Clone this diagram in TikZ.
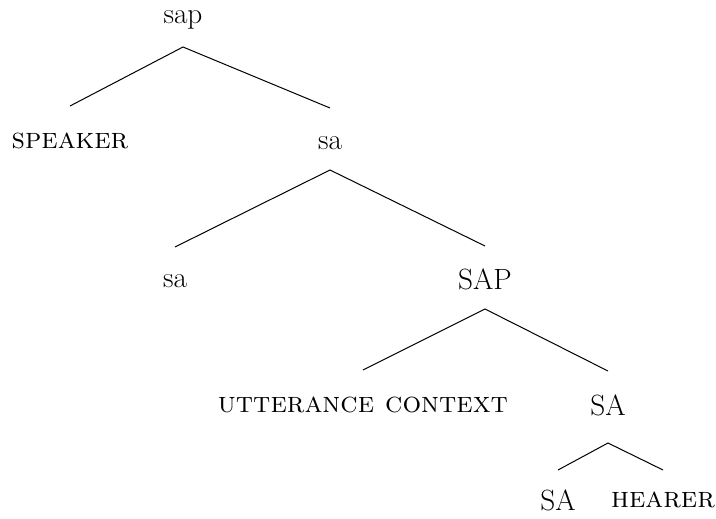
\documentclass[tikz,border=0pt]{standalone}
\usetikzlibrary{calc}
\begin{document}
\begin{tikzpicture}[x=1pt,y=-1pt,
  lbl/.style={inner sep=0pt,font=\fontsize{29.3}{35}\selectfont},
  edge/.style={line width=1pt}]
\useasboundingbox (0,0) rectangle (716,519);
% nodes of the tree
\node[lbl] (sap) at (183,20) {sap};
\node[lbl] (speaker) at (70,141) {\textsc{speaker}};
\node[lbl] (sa1) at (330,143) {sa};
\node[lbl] (sa2) at (175,281) {sa};
\node[lbl] (SAP) at (485,279) {SAP};
\node[lbl] (ctx) at (363,405) {\textsc{utterance context}};
\node[lbl] (SA1) at (608,405) {SA};
\node[lbl] (SA2) at (558,500) {SA};
\node[lbl] (hearer) at (663,500) {\textsc{hearer}};
% branches
\draw[edge] ($(speaker)+(0,-35)$) -- ($(sap)+(0,27)$) -- ($(sa1)+(0,-35)$);
\draw[edge] ($(sa2)+(0,-34)$) -- ($(sa1)+(0,27)$) -- ($(SAP)+(0,-33)$);
\draw[edge] ($(ctx)+(0,-35)$) -- ($(SAP)+(0,30)$) -- ($(SA1)+(0,-34)$);
\draw[edge] ($(SA2)+(0,-30)$) -- ($(SA1)+(0,38)$) -- ($(hearer)+(0,-30)$);
\end{tikzpicture}
\end{document}
